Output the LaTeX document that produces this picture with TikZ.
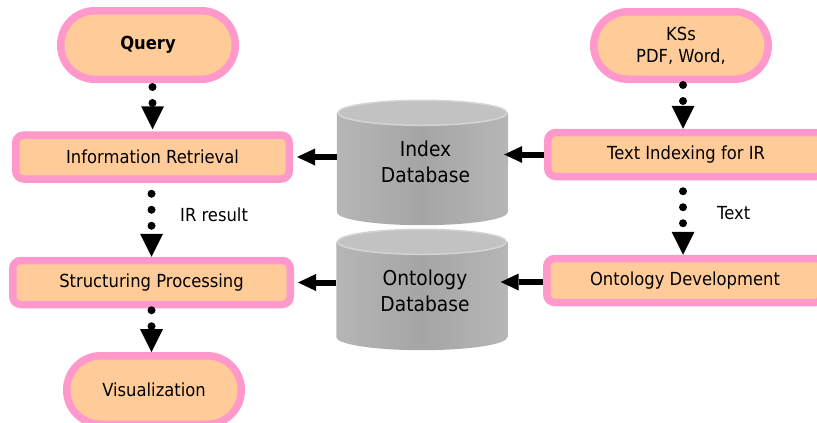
\documentclass[tikz,border=0pt]{standalone}
\usepackage{fontspec}
\setmainfont{DejaVu Sans}[FakeStretch=0.91]
\usetikzlibrary{arrows.meta}
\definecolor{pinkb}{HTML}{FF99CC}
\definecolor{peach}{HTML}{FFCC99}
\definecolor{dbmid}{HTML}{A5A5A5}
\definecolor{dbedge}{HTML}{B6B6B6}
\definecolor{dbtop}{HTML}{C2C2C2}
\definecolor{dbrim}{HTML}{D4D4D4}
\begin{document}
\begin{tikzpicture}[x=1pt,y=-1pt,
  every node/.style={font=\fontsize{18}{23}\selectfont, align=center},
  term/.style={draw=pinkb, fill=peach, line width=7.5pt, rounded corners=34pt,
    minimum width=174.5pt, minimum height=68.5pt, inner sep=0pt},
  proc/.style={draw=pinkb, fill=peach, line width=7.5pt, rounded corners=8pt,
    minimum height=44pt, inner sep=0pt},
  dbshape/.style={minimum width=171pt, inner sep=0pt},
  dbtext/.style={font=\fontsize{20.5}{26}\selectfont},
  dbbody/.style={left color=dbedge, right color=dbedge, middle color=dbmid},
  dbcap/.style={fill=dbtop, draw=dbrim, line width=1.5pt},
  dotarrow/.style={line width=8pt, line cap=round, dash pattern=on 0pt off 16pt,
    -{Triangle[length=23pt,width=23pt,line width=0pt]}},
  solidarrow/.style={line width=6pt, -{Triangle[length=18pt,width=17pt,line width=0pt]}},
  lbl/.style={anchor=west, inner sep=0pt}]
\useasboundingbox (0,0) rectangle (817,423);

% cylinders
\path (422.5,162.5) node[dbshape, minimum height=125pt] (idx) {};
\path (422,289.5) node[dbshape, minimum height=121pt] (onto) {};
\shade[dbbody] ([yshift=-13pt]idx.north west) -- ([yshift=13pt]idx.south west)
  arc[start angle=180, end angle=360, x radius=85.5pt, y radius=13pt]
  -- ([yshift=-13pt]idx.north east) -- cycle;
\path[dbcap] ([yshift=-13pt]idx.north) ellipse[x radius=84.5pt, y radius=12.5pt];
\shade[dbbody] ([yshift=-13pt]onto.north west) -- ([yshift=13pt]onto.south west)
  arc[start angle=180, end angle=360, x radius=85.5pt, y radius=13pt]
  -- ([yshift=-13pt]onto.north east) -- cycle;
\path[dbcap] ([yshift=-13pt]onto.north) ellipse[x radius=84.5pt, y radius=12.5pt];
\node[dbtext] at ([xshift=3pt,yshift=1pt]idx.center) {Index\\Database};
\node[dbtext] at ([xshift=3pt,yshift=-1pt]onto.center) {Ontology\\Database};

% left column
\node[term] (q) at (148,45) {\textbf{Query}};
\node[proc, minimum width=273.5pt] (ir) at (152.5,157) {Information Retrieval};
\node[proc, minimum width=277.5pt] (st) at (151.5,282.5) {Structuring Processing};
\node[term] (vi) at (154,390) {Visualization};

% right column
\node[term, minimum height=67.5pt] (ks) at (681,45.5) {KSs\\[-1pt]PDF, Word,};
\node[proc, minimum width=276.5pt] (ti) at (686,154.5) {Text Indexing for IR};
\node[proc, minimum width=276.5pt] (od) at (685,280.5) {Ontology Development};

% labels
\node[lbl] (irr) at (180,215) {IR result};
\node[lbl] (txt) at (717,213) {Text};

% dotted arrows
\draw[dotarrow] (q.south -| ir.north) ++(0,4) -- ([yshift=2pt]ir.north);
\draw[dotarrow] (ir.south -| st.north) ++(0,11) -- (st.north);
\draw[dotarrow] (st.south) ++(0,2) -- (st.south |- vi.north);
\draw[dotarrow] ([xshift=2pt]ks.south) ++(0,2) -- ([xshift=-3pt]ti.north);
\draw[dotarrow] ([xshift=-3pt]ti.south) ++(0,11) -- ([xshift=-3pt]ti.south |- od.north);

% solid arrows
\draw[solidarrow] (idx.west |- ir.east) -- ([xshift=4pt]ir.east);
\draw[solidarrow] (ti.west) -- ([xshift=-4pt]ti.west -| idx.east);
\draw[solidarrow] (onto.west |- st.east) -- ([xshift=4pt]st.east);
\draw[solidarrow] ([yshift=-1.5pt]od.west) -- ([xshift=-7pt,yshift=-1.5pt]od.west -| onto.east);
\end{tikzpicture}
\end{document}
